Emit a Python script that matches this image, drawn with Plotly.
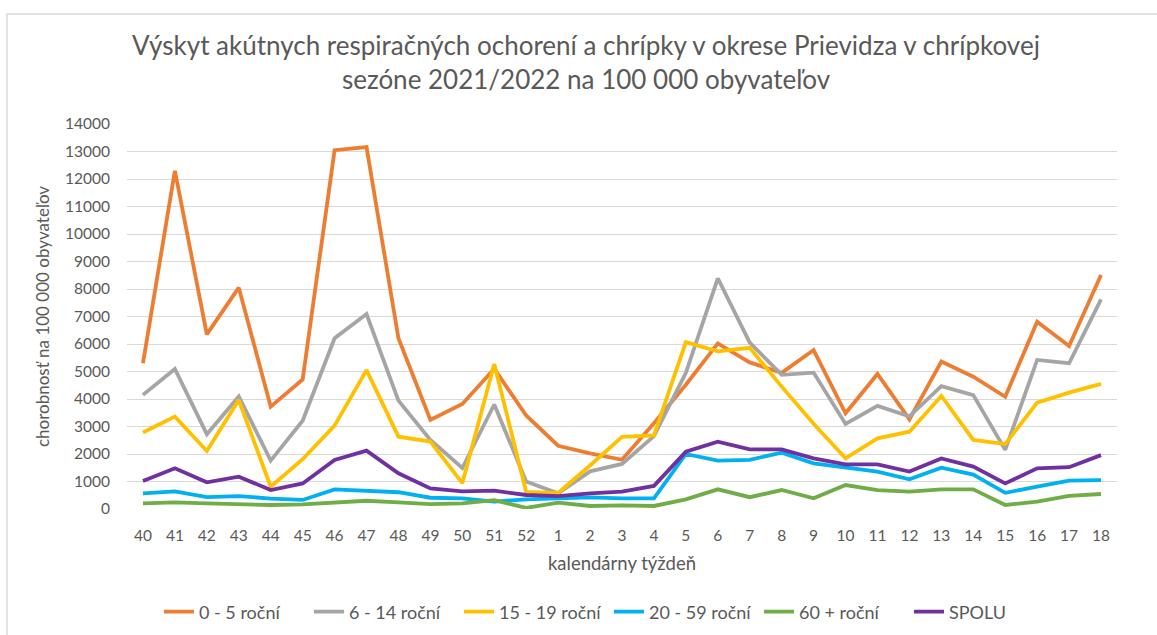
import plotly.graph_objects as go

weeks = ["40", "41", "42", "43", "44", "45", "46", "47", "48", "49", "50", "51", "52",
         "1", "2", "3", "4", "5", "6", "7", "8", "9", "10", "11", "12", "13", "14", "15", "16", "17", "18"]

age_0_5 = [5300, 12300, 6350, 8050, 3720, 4710, 13050, 13160, 6210, 3240, 3820, 5100, 3400,
           2300, 2020, 1790, 3120, 4520, 6020, 5330, 4950, 5780, 3480, 4910, 3260, 5360, 4810, 4080, 6810, 5930, 8510]
age_6_14 = [4150, 5090, 2720, 4090, 1760, 3210, 6210, 7090, 3940, 2510, 1490, 3800, 1000,
            570, 1370, 1640, 2650, 4950, 8390, 6050, 4880, 4960, 3090, 3750, 3370, 4470, 4140, 2150, 5420, 5300, 7620]
age_15_19 = [2780, 3360, 2110, 3960, 810, 1810, 3030, 5050, 2630, 2450, 940, 5270, 620,
             580, 1580, 2620, 2680, 6070, 5730, 5860, 4450, 3100, 1840, 2570, 2810, 4110, 2510, 2360, 3870, 4230, 4550]
age_20_59 = [570, 640, 430, 470, 380, 330, 715, 665, 610, 410, 390, 270, 350,
             390, 425, 390, 390, 2000, 1760, 1790, 2050, 1660, 1510, 1360, 1080, 1500, 1250, 590, 810, 1030, 1050]
age_60_plus = [205, 240, 205, 180, 145, 165, 240, 300, 240, 180, 205, 320, 40,
               230, 110, 135, 110, 350, 715, 430, 690, 390, 870, 690, 630, 715, 715, 145, 265, 480, 545]
spolu = [1020, 1480, 970, 1175, 690, 930, 1780, 2120, 1300, 750, 640, 665, 510,
         470, 570, 630, 840, 2085, 2450, 2170, 2170, 1840, 1620, 1620, 1360, 1840, 1540, 930, 1480, 1520, 1960]

series = [
    ("0 - 5 roční", age_0_5, "#ED7D31"),
    ("6 - 14 roční", age_6_14, "#A5A5A5"),
    ("15 - 19 roční", age_15_19, "#FFC000"),
    ("20 - 59 roční", age_20_59, "#00B0F0"),
    ("60 + roční", age_60_plus, "#70AD47"),
    ("SPOLU", spolu, "#7030A0"),
]

y_ticks = list(range(0, 14001, 1000))

font_family = "Lato, 'Open Sans', sans-serif"
txt = "#595959"

fig = go.Figure()
for name, vals, color in series:
    fig.add_trace(go.Scatter(
        x=weeks, y=vals, name=name, mode="lines",
        line=dict(color=color, width=3.8),
    ))

fig.update_layout(
    width=1157, height=635,
    margin=dict(l=127, r=40, t=124, b=126, autoexpand=False),
    paper_bgcolor="white", plot_bgcolor="white",
    font=dict(family=font_family, color=txt, size=15),
    title=dict(
        text="Výskyt akútnych respiračných ochorení a chrípky v okrese Prievidza v chrípkovej<br>sezóne 2021/2022 na 100 000 obyvateľov",
        x=586 / 1157, xanchor="center", xref="container",
        y=1 - 55 / 635, yanchor="top",
        font=dict(size=26, color=txt, family=font_family),
    ),
    xaxis=dict(
        type="category", categoryorder="array", categoryarray=weeks,
        range=[-0.5, len(weeks) - 0.5],
        showgrid=False, showline=False, zeroline=False, automargin=False,
        ticks="", ticklabelstandoff=15, tickfont=dict(size=15.5, color=txt),
        title=dict(text="kalendárny týždeň", font=dict(size=18.5, color=txt), standoff=14),
    ),
    yaxis=dict(
        range=[0, 14000], tickvals=y_ticks, tickformat="d",
        showgrid=True, gridcolor="#D9D9D9", gridwidth=1,
        zeroline=False, showline=False, ticks="", automargin=False,
        ticklabelstandoff=16, tickfont=dict(size=15.5, color=txt),
        title=dict(text="chorobnosť na 100 000 obyvateľov", font=dict(size=17, color=txt), standoff=11),
    ),
    legend=dict(
        orientation="h", x=(164 - 127 - 5) / 990, xanchor="left", y=(509 - 612) / 385, yanchor="middle",
        font=dict(size=18, color=txt), itemwidth=30, traceorder="normal",
        entrywidth=105, entrywidthmode="pixels",
    ),
    showlegend=True,
    shapes=[dict(type="rect", xref="paper", yref="paper",
                 x0=(7 - 127) / 990, x1=(1180 - 127) / 990,
                 y0=(509 - 660) / 385, y1=(509 - 14) / 385,
                 line=dict(color="#D9D9D9", width=1.5), fillcolor="rgba(0,0,0,0)", layer="below")],
)

fig.write_html("out.html", config={"displayModeBar": False},
               post_script="document.body.style.margin='0';")
